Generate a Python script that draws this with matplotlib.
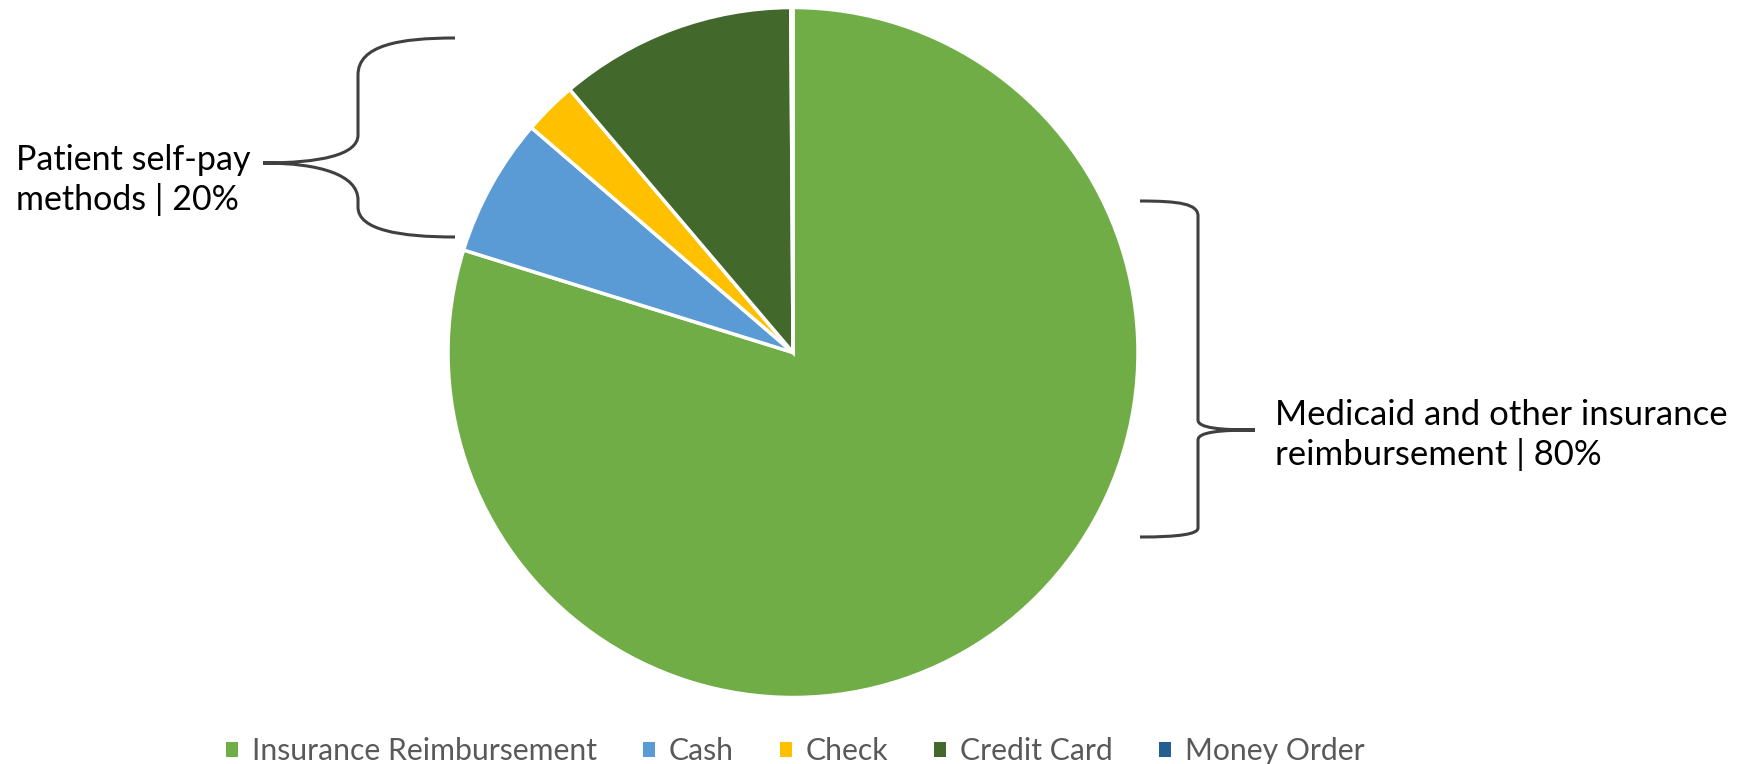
import matplotlib.pyplot as plt
from matplotlib.path import Path
from matplotlib.patches import PathPatch, Patch

# dane wykresu
labels = ['Insurance Reimbursement', 'Cash', 'Check', 'Credit Card', 'Money Order']
shares = [79.8, 6.5, 2.5, 11.1, 0.1]
colors = ['#70AD47', '#5B9BD5', '#FFC000', '#43682B', '#255E91']

left_note = ['Patient self-pay', 'methods | 20%']
right_note = ['Medicaid and other insurance', 'reimbursement | 80%']

W, H = 1737, 764
plt.rcParams['font.family'] = ['Lato', 'DejaVu Sans']

fig = plt.figure(figsize=(W / 100, H / 100), dpi=100)

# 1. Wykres kołowy
cx, cy, r = 793, 352.5, 345
ax = fig.add_axes([(cx - r) / W, 1 - (cy + r) / H, 2 * r / W, 2 * r / H])
ax.pie(shares, colors=colors, startangle=90, counterclock=False,
       wedgeprops=dict(edgecolor='white', linewidth=2.5))
ax.set_xlim(-1, 1)
ax.set_ylim(-1, 1)
ax.set_aspect('auto')

# 2. Nawiasy i opisy (w pikselach figury)
over = fig.add_axes([0, 0, 1, 1])
over.set_xlim(0, W)
over.set_ylim(H, 0)
over.axis('off')

M, C, L = Path.MOVETO, Path.CURVE4, Path.LINETO


def brace(verts, codes):
    over.add_patch(PathPatch(Path(verts, codes), facecolor='none',
                             edgecolor='#404040', lw=2.2, capstyle='butt'))


brace([(455, 38), (400, 38), (358, 45), (358, 75), (358, 135),
       (358, 155), (320, 163), (263, 163),
       (263, 163), (320, 163), (358, 175), (358, 200), (358, 207),
       (358, 230), (400, 237), (455, 237)],
      [M, C, C, C, L, C, C, C, M, C, C, C, L, C, C, C])

brace([(1140, 201), (1180, 201), (1198, 204), (1198, 216), (1198, 420),
       (1198, 428), (1220, 430), (1255, 430),
       (1255, 430), (1220, 430), (1198, 432), (1198, 440), (1198, 528),
       (1198, 534), (1180, 537), (1140, 537)],
      [M, C, C, C, L, C, C, C, M, C, C, C, L, C, C, C])

for line, y in zip(left_note, [170, 210]):
    over.text(16, y, line, fontsize=24.5, color='black', va='baseline', ha='left')
for line, y in zip(right_note, [425, 465]):
    over.text(1275, y, line, fontsize=25, color='black', va='baseline', ha='left')

# 3. Legenda
handles = [Patch(facecolor=c) for c in colors]
fs = 21.7
fpx = fs * 100 / 72
fig.legend(handles, labels, loc='center', bbox_to_anchor=(795 / W, 1 - 751 / H),
           ncol=5, frameon=False, fontsize=fs, labelcolor='#595959',
           handlelength=12 / fpx, handleheight=12 / fpx,
           handletextpad=14 / fpx, columnspacing=46 / fpx, borderpad=0)

fig.savefig('out.png', dpi=100)
